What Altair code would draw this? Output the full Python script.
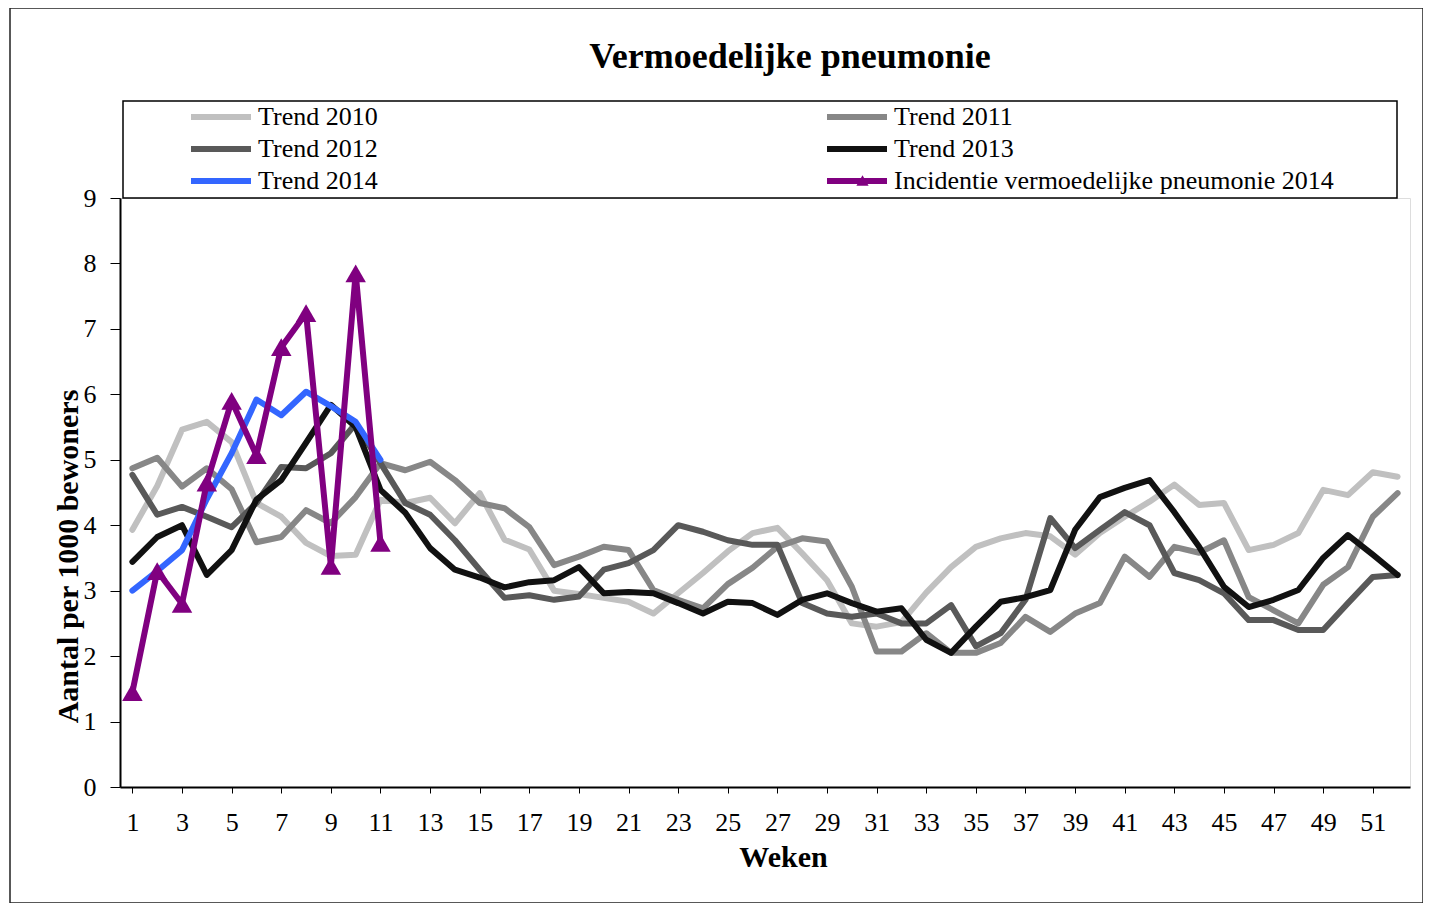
import altair as alt
import pandas as pd

weeks = list(range(1, 53))

trend_2010 = [3.93, 4.6, 5.46, 5.58, 5.27, 4.34, 4.13, 3.73, 3.53, 3.55, 4.39, 4.34, 4.42, 4.03, 4.49, 3.78, 3.63, 3.0, 2.95, 2.89,
              2.83, 2.65, 2.96, 3.27, 3.6, 3.88, 3.96, 3.57, 3.16, 2.5, 2.45, 2.52, 2.97, 3.36, 3.67, 3.8, 3.88, 3.83, 3.55, 3.88,
              4.13, 4.36, 4.62, 4.31, 4.34, 3.62, 3.7, 3.88, 4.54, 4.46, 4.81, 4.74]
trend_2011 = [4.87, 5.03, 4.59, 4.87, 4.55, 3.74, 3.82, 4.23, 4.03, 4.43, 4.95, 4.84, 4.97, 4.69, 4.34, 4.26, 3.97, 3.39, 3.52, 3.67,
              3.62, 3.01, 2.86, 2.73, 3.1, 3.35, 3.67, 3.8, 3.75, 3.06, 2.07, 2.07, 2.35, 2.05, 2.05, 2.2, 2.6, 2.37, 2.65, 2.81,
              3.52, 3.21, 3.67, 3.58, 3.77, 2.9, 2.7, 2.5, 3.09, 3.36, 4.13, 4.49]
trend_2012 = [4.77, 4.16, 4.28, 4.13, 3.97, 4.34, 4.89, 4.87, 5.1, 5.55, 4.95, 4.34, 4.16, 3.77, 3.32, 2.89, 2.93, 2.86, 2.91, 3.32,
              3.42, 3.62, 4.0, 3.9, 3.77, 3.7, 3.7, 2.81, 2.65, 2.6, 2.65, 2.5, 2.5, 2.78, 2.15, 2.35, 2.86, 4.11, 3.65, 3.93,
              4.2, 4.0, 3.27, 3.16, 2.96, 2.55, 2.55, 2.4, 2.4, 2.81, 3.21, 3.24]
trend_2013 = [3.44, 3.82, 4.0, 3.24, 3.62, 4.39, 4.69, 5.26, 5.84, 5.5, 4.54, 4.19, 3.65, 3.32, 3.2, 3.05, 3.13, 3.16, 3.36, 2.96,
              2.98, 2.96, 2.81, 2.65, 2.83, 2.81, 2.63, 2.86, 2.96, 2.81, 2.68, 2.73, 2.25, 2.05, 2.45, 2.83, 2.9, 3.01, 3.93, 4.43,
              4.57, 4.69, 4.2, 3.67, 3.06, 2.75, 2.86, 3.01, 3.5, 3.85, 3.55, 3.24]
trend_2014 = [3.0, 3.3, 3.62, 4.4, 5.1, 5.92, 5.68, 6.04, 5.82, 5.58, 5.0]
incidentie_2014 = [1.45, 3.3, 2.8, 4.65, 5.9, 5.07, 6.72, 7.24, 3.38, 7.85, 3.73]

series_names = ["Trend 2010", "Trend 2011", "Trend 2012", "Trend 2013", "Trend 2014",
                "Incidentie vermoedelijke pneumonie 2014"]
series_colors = ["#c0c0c0", "#878787", "#595959", "#111111", "#3366ff", "#800080"]
y_ticks = list(range(0, 10))
chart_title = "Vermoedelijke pneumonie"

rows = []
for name, vals in zip(series_names, [trend_2010, trend_2011, trend_2012, trend_2013, trend_2014, incidentie_2014]):
    for i, v in enumerate(vals):
        rows.append({"week": weeks[i], "value": v, "series": name, "order": series_names.index(name)})
df = pd.DataFrame(rows)
inc_df = df[df["series"] == series_names[-1]].assign(marker="tri")

FONT = "Liberation Serif"

x_enc = alt.X("week:Q", scale=alt.Scale(domain=[0.5, 52.5], nice=False, zero=False),
              axis=alt.Axis(values=weeks, labelExpr="datum.value % 2 == 1 ? datum.label : ''",
                            title="Weken", titleFont=FONT, titleFontSize=30, titleFontWeight="bold",
                            titleX=663, titleY=70, titleBaseline="middle",
                            labelFont=FONT, labelFontSize=26, labelColor="black", labelPadding=16,
                            tickColor="black", tickSize=6, domainColor="black", domainWidth=2,
                            grid=False, labelFlush=False, labelOverlap=False))
y_enc = alt.Y("value:Q", scale=alt.Scale(domain=[0, 9], nice=False),
              axis=alt.Axis(values=y_ticks, format="d", title="Aantal per 1000 bewoners", titleFont=FONT,
                            titleFontSize=30, titleFontWeight="bold", titleX=-52, titleY=358,
                            titleBaseline="middle", titleAngle=270,
                            labelFont=FONT, labelFontSize=26, labelColor="black", labelPadding=14,
                            tickColor="black", tickSize=10, domainColor="black", domainWidth=2, grid=False))

lines = alt.Chart(df).mark_line(strokeWidth=6, strokeJoin="round", strokeCap="round").encode(
    x=x_enc, y=y_enc,
    color=alt.Color("series:N", scale=alt.Scale(domain=series_names, range=series_colors),
                    legend=alt.Legend(title=None, orient="none", legendX=68, legendY=-93, columns=2,
                                      columnPadding=446, rowPadding=6, clipHeight=24, symbolType="stroke",
                                      symbolStrokeWidth=6, symbolSize=3600, labelFont=FONT,
                                      labelFontSize=26, labelColor="black", labelOffset=4,
                                      labelLimit=600, padding=0, direction="horizontal")),
    order="order:Q",
    detail="series:N",
)

points = alt.Chart(inc_df).mark_point(filled=True, size=420, color="#800080", opacity=1).encode(
    x="week:Q", y="value:Q",
    shape=alt.Shape("marker:N", scale=alt.Scale(domain=["tri"], range=["triangle-up"]),
                    legend=alt.Legend(title=None, orient="none", legendX=736, legendY=-24,
                                      symbolSize=150, symbolFillColor="#800080", symbolStrokeWidth=0,
                                      labelExpr="''", padding=0, labelLimit=1)),
)

one = pd.DataFrame({"a": [0]})
legend_box = alt.Chart(one).mark_rect(fillOpacity=0, stroke="black", strokeWidth=1.5).encode(
    x=alt.value(3), x2=alt.value(1277), y=alt.value(-97), y2=alt.value(0)
)
outer_box = alt.Chart(one).mark_rect(fillOpacity=0, stroke="#222222", strokeWidth=1.5).encode(
    x=alt.value(-110), x2=alt.value(1303), y=alt.value(-190), y2=alt.value(705)
)
title_text = alt.Chart(pd.DataFrame({"t": [chart_title]})).mark_text(
    font=FONT, fontSize=36, fontWeight="bold", color="black", align="center", baseline="middle"
).encode(x=alt.value(670), y=alt.value(-141), text="t:N")

chart = alt.layer(outer_box, legend_box, title_text, lines, points).properties(
    width=1290, height=589,
    autosize=alt.AutoSizeParams(type="none"),
    padding={"left": 112, "top": 190, "right": 13, "bottom": 116},
).configure_view(stroke="#999999", strokeWidth=2).configure(background="white")

chart.save("out.html", embed_options={"renderer": "svg", "actions": False})
